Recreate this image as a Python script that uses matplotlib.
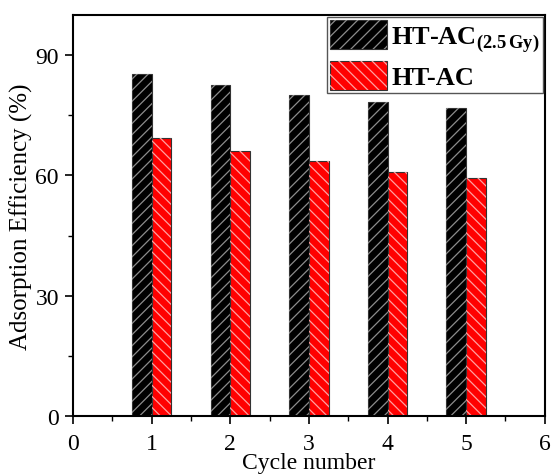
import matplotlib
matplotlib.use("Agg")
import matplotlib.pyplot as plt
import numpy as np
from matplotlib.legend_handler import HandlerTuple
from matplotlib.ticker import MultipleLocator

plt.rcParams['font.family'] = ['Liberation Serif', 'DejaVu Serif']
plt.rcParams['mathtext.fontset'] = 'custom'
plt.rcParams['mathtext.rm'] = 'Liberation Serif'
plt.rcParams['mathtext.bf'] = 'Liberation Serif:bold'
plt.rcParams['hatch.linewidth'] = 0.9

cycles = [1, 2, 3, 4, 5]
ht_ac_irr = [85.3, 82.6, 80.2, 78.3, 76.8]
ht_ac = [69.4, 66.1, 63.7, 60.9, 59.3]
labels = [r'HT-AC$_{\mathbf{(2.5\,Gy)}}$', 'HT-AC']

fig = plt.figure(figsize=(5.52, 4.77), dpi=100)
ax = fig.add_axes([0.132, 0.126, 0.855, 0.840])

x = np.array(cycles)
w = 0.25
b1 = ax.bar(x - w/2, ht_ac_irr, w, color='black', edgecolor='#333333', linewidth=0.8)
h1 = ax.bar(x - w/2, ht_ac_irr, w, color='none', edgecolor='#8c8c8c', hatch='///', linewidth=0)
b2 = ax.bar(x + w/2, ht_ac, w, color='#ff0000', edgecolor='#333333', linewidth=0.8)
h2 = ax.bar(x + w/2, ht_ac, w, color='none', edgecolor='#ffa0a0', hatch='\\\\\\', linewidth=0)

ax.set_xlim(0, 6)
ax.set_ylim(0, 100)
ax.xaxis.set_major_locator(MultipleLocator(1))
ax.xaxis.set_minor_locator(MultipleLocator(0.5))
ax.yaxis.set_major_locator(MultipleLocator(30))
ax.yaxis.set_minor_locator(MultipleLocator(15))
ax.tick_params(which='major', direction='out', length=6, width=1.2, labelsize=17, pad=4)
ax.tick_params(axis='x', which='major', pad=6)
ax.tick_params(which='minor', direction='out', length=3.5, width=1.0)
for s in ax.spines.values():
    s.set_linewidth(1.5)

ax.set_xlabel('Cycle number', fontsize=17, labelpad=-1)
ax.set_ylabel('Adsorption Efficiency (%)', fontsize=18, labelpad=2)

leg = ax.legend([(b1[0], h1[0]), (b2[0], h2[0])], labels,
                handler_map={tuple: HandlerTuple(ndivide=1)},
                loc='upper right', fancybox=False, framealpha=1,
                edgecolor='#555555', prop={'weight': 'bold', 'size': 19},
                handlelength=2.15, handleheight=1.3, borderaxespad=0.08,
                borderpad=0.12, labelspacing=0.25, handletextpad=0.15)
leg.get_frame().set_linewidth(1.0)

fig.savefig('out.png', dpi=100)
